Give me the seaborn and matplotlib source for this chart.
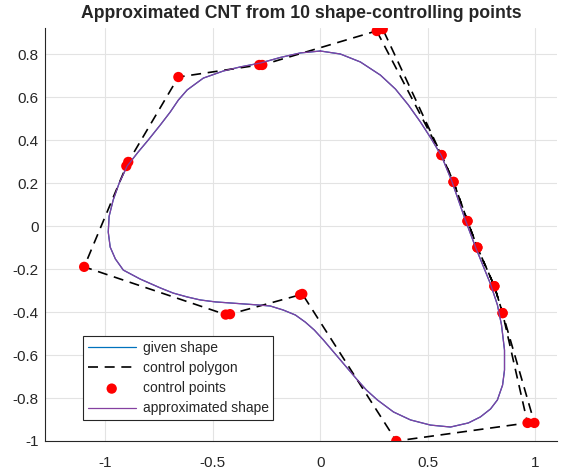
import numpy as np
import matplotlib
matplotlib.use("Agg")
import matplotlib.pyplot as plt
import seaborn as sns

# control polygon (periodic: right side walked twice)
poly_x = [0.262, 0.563, 0.619, 0.684, 0.730, 0.809, 0.847, 0.963, 0.353, -0.084, -0.094,
          -0.420, -0.440, -1.098, -0.902, -0.893, -0.660, -0.284, -0.270, 0.290,
          0.563, 0.619, 0.684, 0.730, 0.809, 0.847, 0.995]
poly_y = [0.907, 0.330, 0.205, 0.023, -0.100, -0.280, -0.405, -0.916, -1.000, -0.316, -0.320,
          -0.410, -0.412, -0.190, 0.279, 0.298, 0.693, 0.749, 0.749, 0.916,
          0.330, 0.205, 0.023, -0.100, -0.280, -0.405, -0.916]

# approximated closed curve (clockwise from the top)
shape_x = [0.000, 0.093, 0.186, 0.279, 0.349, 0.409, 0.465, 0.516, 0.563, 0.609,
           0.674, 0.721, 0.791, 0.823, 0.842, 0.856, 0.856, 0.847, 0.823, 0.791,
           0.744, 0.688, 0.605, 0.512, 0.419, 0.340, 0.265, 0.214, 0.172, 0.093,
           0.014, -0.028, -0.070, -0.116, -0.172, -0.233, -0.293, -0.349, -0.419, -0.488,
           -0.558, -0.619, -0.684, -0.744, -0.837, -0.916, -0.953, -0.977, -0.986, -0.982,
           -0.963, -0.935, -0.898, -0.847, -0.800, -0.744, -0.698, -0.660, -0.619, -0.544,
           -0.451, -0.372, -0.279, -0.186, -0.093, 0.000]
shape_y = [0.814, 0.800, 0.763, 0.702, 0.637, 0.563, 0.484, 0.405, 0.326, 0.214,
           0.028, -0.098, -0.270, -0.367, -0.460, -0.577, -0.670, -0.740, -0.809, -0.851,
           -0.888, -0.916, -0.935, -0.926, -0.902, -0.865, -0.809, -0.763, -0.716, -0.623,
           -0.530, -0.484, -0.447, -0.414, -0.391, -0.372, -0.367, -0.363, -0.358, -0.353,
           -0.344, -0.330, -0.312, -0.288, -0.247, -0.205, -0.153, -0.098, -0.028, 0.045,
           0.121, 0.200, 0.279, 0.344, 0.400, 0.470, 0.530, 0.586, 0.633, 0.688,
           0.721, 0.740, 0.758, 0.784, 0.805, 0.814]

xticks = [-1, -0.5, 0, 0.5, 1]
xtick_labels = ["-1", "-0.5", "0", "0.5", "1"]
yticks = [-1, -0.8, -0.6, -0.4, -0.2, 0, 0.2, 0.4, 0.6, 0.8]
ytick_labels = ["-1", "-0.8", "-0.6", "-0.4", "-0.2", "0", "0.2", "0.4", "0.6", "0.8"]

sns.set_style("whitegrid")
plt.rcParams['font.family'] = ['Liberation Sans', 'DejaVu Sans']

fig = plt.figure(figsize=(5.63, 4.72), dpi=100)
ax = fig.add_axes([45 / 563, 31 / 472, 512 / 563, 413 / 472])

sns.lineplot(x=shape_x, y=shape_y, sort=False, estimator=None, ax=ax,
             color="#0072BD", lw=0.9, label="given shape", solid_joinstyle="round")
sns.lineplot(x=poly_x, y=poly_y, sort=False, estimator=None, ax=ax,
             color="black", lw=1.2, linestyle=(0, (6, 4)), label="control polygon")
sns.scatterplot(x=poly_x, y=poly_y, ax=ax, color="red", s=55, edgecolor="none",
                label="control points", zorder=3)
sns.lineplot(x=shape_x, y=shape_y, sort=False, estimator=None, ax=ax,
             color="#8540A0", lw=0.9, label="approximated shape", zorder=4,
             solid_joinstyle="round")

ax.set_xlim(-1.28, 1.10)
ax.set_ylim(-1.0, 0.921)
ax.set_xticks(xticks)
ax.set_xticklabels(xtick_labels)
ax.set_yticks(yticks)
ax.set_yticklabels(ytick_labels)
ax.grid(True, color="#e3e3e3", lw=0.8)
ax.set_axisbelow(True)

for s in ["top", "right"]:
    ax.spines[s].set_visible(False)
for s in ["left", "bottom"]:
    ax.spines[s].set_color("#262626")
    ax.spines[s].set_linewidth(0.8)
ax.tick_params(axis="both", direction="in", length=4, width=0.8, color="#262626",
               labelsize=11, labelcolor="#262626")
ax.tick_params(axis="x", pad=11)
ax.tick_params(axis="y", pad=4.5)

ax.set_title("Approximated CNT from 10 shape-controlling points",
             fontsize=12.7, fontweight="bold", pad=7)

leg = ax.legend(loc="lower left", bbox_to_anchor=(0.074, 0.05), fontsize=10,
                frameon=True, fancybox=False, framealpha=1, edgecolor="#262626",
                borderpad=0.35, labelspacing=0.45, handlelength=3.45, handletextpad=0.5,
                borderaxespad=0)
leg.get_frame().set_linewidth(0.8)

fig.savefig("out.png", dpi=100)
